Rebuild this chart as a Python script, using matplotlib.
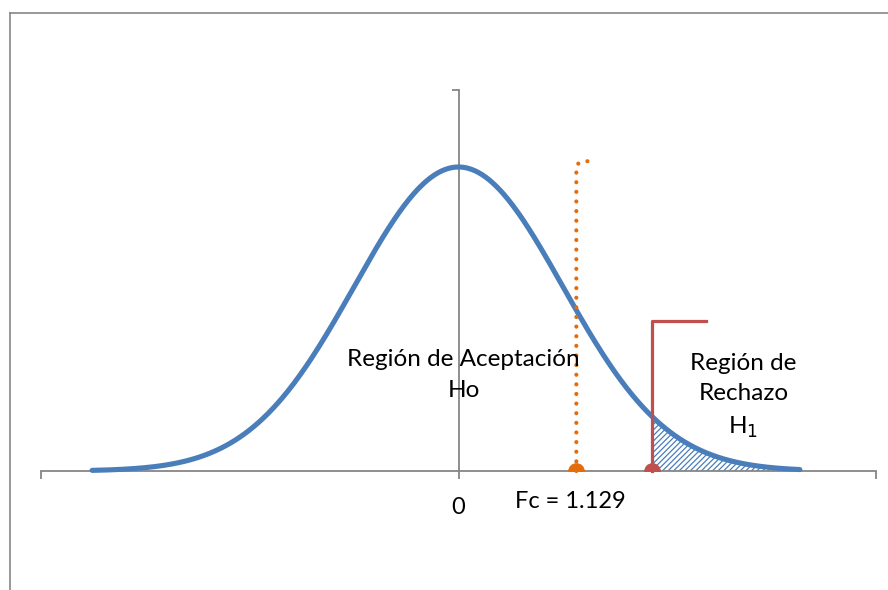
import numpy as np
import matplotlib
matplotlib.use("Agg")
import matplotlib.pyplot as plt
from matplotlib.lines import Line2D

plt.rcParams['font.family'] = ['Lato', 'DejaVu Sans']
plt.rcParams['hatch.linewidth'] = 0.9

# ---- data ----
mu = 0.0
sigma = 1.0
curve_start, curve_end = -3.51, 3.27
fc_value = 1.129
critical_value = 1.856
fc_line_x = [1.129, 1.129, 1.14, 1.225, 1.311]
fc_line_y = [0.0, 0.392, 0.403, 0.407, 0.403]
crit_line_x = [1.856, 1.856, 2.37]
crit_line_y = [0.0, 0.197, 0.197]
x_ticks = [-4, 0, 4]
x_tick_labels = ['', '0', '']
xlim = (-4.0, 4.0)
ylim = (0.0, 0.5)

BLUE = '#4A7EBB'
ORANGE = '#E46C0A'
RED = '#C0504D'
GRAY = '#868686'

fig = plt.figure(figsize=(8.88, 5.90), dpi=100)
W, H = 888, 590

# outer frame (left and top edges visible)
fig.add_artist(Line2D([10 / W, 10 / W], [0, 1 - 13 / H], color=GRAY, lw=1.2))
fig.add_artist(Line2D([10 / W, 1], [1 - 13 / H, 1 - 13 / H], color=GRAY, lw=1.2))

ax = fig.add_axes([41 / W, (590 - 471) / H, 835 / W, 381 / H])
ax.set_xlim(*xlim)
ax.set_ylim(*ylim)

xs = np.linspace(curve_start, curve_end, 600)
pdf = np.exp(-0.5 * ((xs - mu) / sigma) ** 2) / (sigma * np.sqrt(2 * np.pi))

# hatched rejection area
mask = xs >= critical_value
ax.fill_between(xs[mask], 0, pdf[mask], facecolor='none', edgecolor=BLUE,
                hatch='//////', linewidth=0, zorder=2)

ax.plot(xs, pdf, color=BLUE, lw=3.7, solid_capstyle='round', zorder=4, clip_on=False)

# Fc dotted line
ax.plot(fc_line_x, fc_line_y, color=ORANGE, lw=3.0, linestyle=(0, (0.01, 2.3)),
        dash_capstyle='round', zorder=5, clip_on=False)
ax.plot([fc_value], [0], 'o', color=ORANGE, ms=11, zorder=6, clip_on=True)

# critical line
ax.plot(crit_line_x, crit_line_y, color=RED, lw=2.3, zorder=5, clip_on=False)
ax.plot([critical_value], [0], 'o', color=RED, ms=11, zorder=6, clip_on=True)

# axes styling
for s in ['top', 'right']:
    ax.spines[s].set_visible(False)
ax.spines['left'].set_position(('data', 0))
ax.spines['left'].set_color(GRAY)
ax.spines['bottom'].set_color(GRAY)
ax.spines['left'].set_linewidth(1.3)
ax.spines['bottom'].set_linewidth(1.3)
ax.spines['left'].set_zorder(3)
ax.spines['bottom'].set_zorder(3)
ax.set_xticks(x_ticks)
ax.set_xticklabels(x_tick_labels)
ax.set_yticks([0.5])
ax.set_yticklabels([''])
ax.tick_params(axis='x', direction='out', length=6, width=1.3, color=GRAY,
               labelsize=17, pad=13)
ax.tick_params(axis='y', direction='out', length=5, width=1.3, color=GRAY)
ax.patch.set_alpha(0)

# texts
ax.text(0.05, 0.126, 'Región de Aceptación\nHo', ha='center', va='center',
        fontsize=17.5, linespacing=1.57, zorder=7)
ax.text(2.73, 0.098, 'Región de\nRechazo\nH$_1$', ha='center', va='center',
        fontsize=17.5, linespacing=1.55, zorder=7)
ax.text(fc_value - 0.06, -0.040, 'Fc = 1.129', ha='center', va='center',
        fontsize=17, zorder=7)

fig.savefig('out.png', dpi=100)
